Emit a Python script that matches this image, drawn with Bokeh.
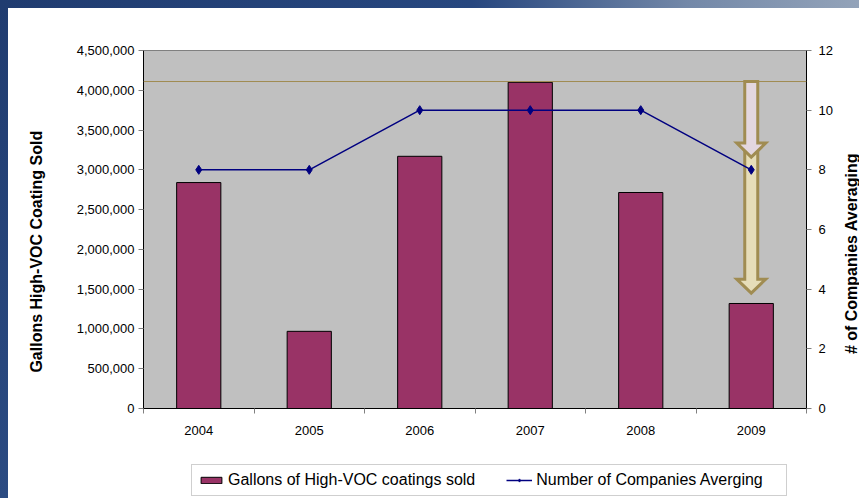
from bokeh.plotting import figure
from bokeh.layouts import column, row
from bokeh.models import (Range1d, LinearAxis, FixedTicker, NumeralTickFormatter,
                          Legend, LegendItem, Span)
from bokeh.embed import file_html
from bokeh.resources import INLINE

# ---- data ----
years = ["2004", "2005", "2006", "2007", "2008", "2009"]
gallons = [2840000, 970000, 3170000, 4100000, 2715000, 1320000]
companies = [8, 8, 10, 10, 10, 8]
gallon_ticks = [0, 500000, 1000000, 1500000, 2000000, 2500000, 3000000, 3500000, 4000000, 4500000]
company_ticks = [0, 2, 4, 6, 8, 10, 12]
limit_level = 4110000
arrow_upper = (4110000, 3160000)   # top, tip (gallons scale)
arrow_lower = (3330000, 1450000)
left_title = "Gallons High-VOC Coating Sold"
right_title = "# of Companies Averaging"
bar_label = "Gallons of High-VOC coatings sold"
line_label = "Number of Companies Averging"

FONT = "Liberation Sans"
BAR_COLOR = "#993366"
LINE_COLOR = "#000080"
NB = "\u00a0"
xc = [i + 0.5 for i in range(len(years))]

MAIN_W = 831
p = figure(width=MAIN_W, height=455, output_backend="svg", toolbar_location=None,
           x_range=Range1d(0, len(years)), y_range=Range1d(0, 4500000),
           min_border_left=135, min_border_right=MAIN_W - 798, min_border_top=42, min_border_bottom=55,
           background_fill_color="#c0c0c0", border_fill_color="white",
           outline_line_color="#808080", outline_line_width=1)
p.grid.visible = False
p.extra_y_ranges = {"n": Range1d(0, 12)}

# limit line
p.add_layout(Span(location=limit_level, dimension="width", line_color="#a08c52", line_width=1))

# bars
bars = p.vbar(x=xc, top=gallons, width=0.4, fill_color=BAR_COLOR, line_color="black", line_width=1)

# arrows (annotation) in data units
ux = len(years) / 663.0
uy = 4500000 / 358.0
def arrow(cx, top, tip):
    sw, hw, hl = 6.5 * ux, 14.5 * ux, 14 * uy
    base = tip + hl
    xs = [cx - sw, cx + sw, cx + sw, cx + hw, cx, cx - hw, cx - sw]
    ys = [top, top, base, base, tip, base, base]
    return xs, ys
lx, ly = arrow(xc[5], *arrow_lower)
p.patch(lx, ly, fill_color="#e6ddb9", line_color="#a08c52", line_width=3, line_join="miter")
uxs, uys = arrow(xc[5], *arrow_upper)
p.patch(uxs, uys, fill_color="#e3d7df", line_color="#a08c52", line_width=3, line_join="miter")

# line series
ln = p.line(xc, companies, y_range_name="n", line_color=LINE_COLOR, line_width=1.5)
pts = p.scatter(xc, companies, y_range_name="n", marker="diamond", size=9,
                fill_color=LINE_COLOR, line_color=LINE_COLOR)

# x axis
xa = p.xaxis[0]
xa.ticker = FixedTicker(ticks=xc, minor_ticks=list(range(len(years) + 1)))
xa.major_label_overrides = {v: y for v, y in zip(xc, years)}
xa.major_tick_out = 0
xa.major_tick_in = 0
xa.minor_tick_out = 5
xa.minor_tick_in = 0
xa.minor_tick_line_color = "#808080"
xa.axis_line_color = "black"
xa.major_label_standoff = 12
xa.major_label_text_font = FONT
xa.major_label_text_font_size = "13px"
xa.major_label_text_color = "black"

# left axis
ya = p.yaxis[0]
ya.ticker = FixedTicker(ticks=gallon_ticks)
ya.formatter = NumeralTickFormatter(format="0,0")
ya.major_tick_out = 5
ya.major_tick_in = 0
ya.minor_tick_out = 0
ya.minor_tick_in = 0
ya.major_tick_line_color = "#808080"
ya.axis_line_color = "black"
ya.major_label_standoff = 4
ya.major_label_text_font = FONT
ya.major_label_text_font_size = "13px"
ya.major_label_text_color = "black"
ya.axis_label = left_title + NB * 10
ya.axis_label_text_font = FONT
ya.axis_label_text_font_size = "16px"
ya.axis_label_text_font_style = "bold"
ya.axis_label_text_color = "black"
ya.axis_label_standoff = 29

# right axis (ticks and numbers)
ra = LinearAxis(y_range_name="n", ticker=FixedTicker(ticks=company_ticks))
ra.major_tick_out = 5
ra.major_tick_in = 0
ra.minor_tick_out = 0
ra.minor_tick_in = 0
ra.major_tick_line_color = "#808080"
ra.axis_line_color = "black"
ra.major_label_standoff = 7
ra.major_label_text_font = FONT
ra.major_label_text_font_size = "13px"
ra.major_label_text_color = "black"
p.add_layout(ra, "right")

# legend strip (separate figure below the chart); its copies of the series are squeezed
# into the legend box area, where the opaque legend covers them
lf = figure(width=MAIN_W, height=35, output_backend="svg", toolbar_location=None,
            x_range=Range1d(-1, len(years) + 1), y_range=Range1d(-2733333, 6833333),
            x_axis_location=None, y_axis_location=None,
            min_border=0, outline_line_color=None,
            background_fill_color="white", border_fill_color="white")
lf.grid.visible = False
lbar = lf.vbar(x=xc, top=gallons, width=0.4, fill_color=BAR_COLOR, line_color="black", line_width=1)
lln = lf.line(xc, companies, line_color=LINE_COLOR, line_width=1.5)
lpts = lf.scatter(xc, companies, marker="diamond", size=2, fill_color=LINE_COLOR, line_color=LINE_COLOR)
legend = Legend(items=[LegendItem(label=bar_label, renderers=[lbar]),
                       LegendItem(label=line_label, renderers=[lln, lpts])],
                orientation="horizontal", location=(48, 2),
                label_text_font=FONT, label_text_font_size="16px", label_text_color="black",
                glyph_width=26, glyph_height=8, label_standoff=4, spacing=31,
                padding=6, label_height=17, label_width=244, margin=0,
                border_line_color="#a0a0a0", border_line_width=1,
                background_fill_color="white", background_fill_alpha=1)
lf.add_layout(legend)

# right title strip: a left-side axis label on a narrow figure, reads bottom-to-top
rf = figure(width=851 - MAIN_W, height=490, output_backend="svg", toolbar_location=None,
            x_range=Range1d(0, 1), y_range=Range1d(0, 12),
            x_axis_location=None, y_axis_location="left",
            min_border=0, outline_line_color=None,
            background_fill_color="white", border_fill_color="white")
rf.grid.visible = False
rya = rf.yaxis[0]
rya.ticker = FixedTicker(ticks=[])
rya.axis_line_color = None
rya.major_tick_out = 0
rya.major_tick_in = 0
rya.minor_tick_out = 0
rya.minor_tick_in = 0
rya.major_label_standoff = 0
rya.axis_label = right_title
rya.axis_label_standoff = 0
rya.axis_label_text_font = FONT
rya.axis_label_text_font_size = "16px"
rya.axis_label_text_font_style = "bold"
rya.axis_label_text_color = "black"

layout = row(column(p, lf, spacing=0), rf, spacing=0)

css = ("<style>html{min-height:100%;background:"
       "linear-gradient(90deg,#203c70 0%,#27477f 55%,#7388a8 80%,#93a3b9 100%) 0 0/100% 8px no-repeat,"
       "linear-gradient(180deg,#203c70,#2b4b82) 0 0/8px 100% no-repeat,#ffffff;}"
       "body{margin:8px 0 0 8px;background:transparent;}</style>")
html = file_html(layout, INLINE, title="High-VOC Coatings")
html = html.replace("</head>", css + "</head>", 1)
open("out.html", "w").write(html)
